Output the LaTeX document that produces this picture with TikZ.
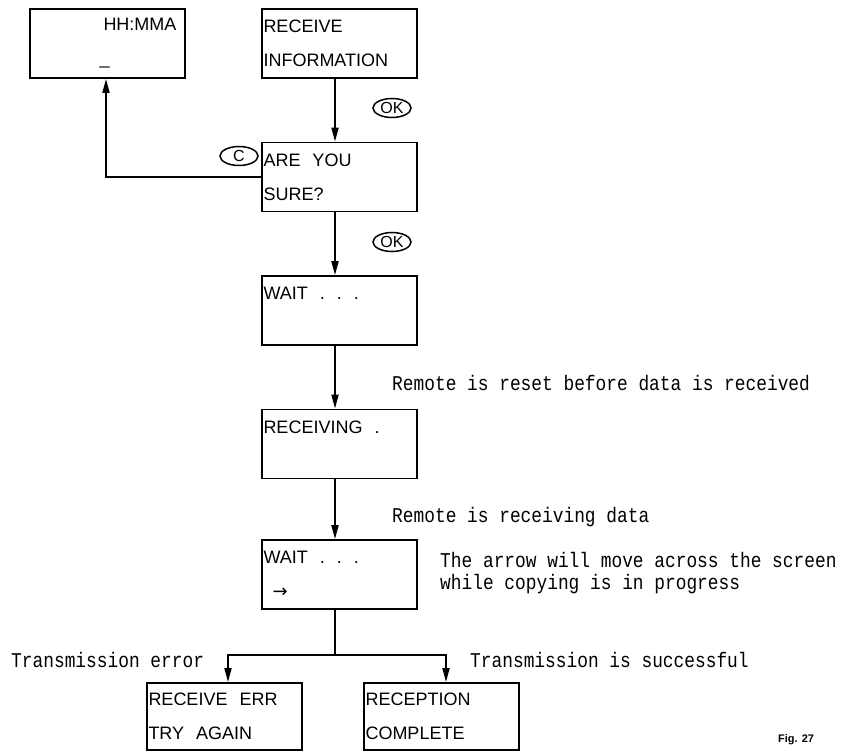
\documentclass[tikz,border=0pt]{standalone}
\usepackage{fontspec}
\setmainfont{Liberation Sans}
\newfontfamily\monof[FakeStretch=0.85]{Liberation Mono}
\newfontfamily\dejavu{DejaVu Sans}
\usetikzlibrary{arrows.meta,shapes.geometric}
\newcommand\wsp{\hspace{12pt}}
\begin{document}
\begin{tikzpicture}[x=1pt,y=-1pt,
  box/.style={draw, line width=1.8pt, minimum width=155pt, minimum height=69pt,
    text width=152pt, inner xsep=1.5pt, inner ysep=0pt, align=left,
    font=\fontsize{18}{34}\selectfont},
  conn/.style={line width=1.8pt},
  arr/.style={conn, -{Triangle[length=14pt,width=7pt]}},
  note/.style={anchor=base west, inner sep=0pt, font=\monof\fontsize{21}{24}\selectfont},
  key/.style={draw, ellipse, line width=1.5pt, minimum width=38pt, minimum height=19pt,
    inner sep=0pt, font=\fontsize{16}{16}\selectfont}]
\useasboundingbox (0,0) rectangle (854,754);
% boxes
\node[box] (hh)  at (107.5,43.5) {\hspace*{72pt}HH:MMA\\\hspace*{68pt}\_};
\node[box] (ri)  at (339.5,43.5) {RECEIVE\\INFORMATION};
\node[box] (ays) at (339.5,177)  {ARE\wsp YOU\\SURE?};
\node[box] (w1)  at (339.5,310.5) {WAIT\wsp.\wsp.\wsp.\\\mbox{}};
\node[box] (rv)  at (339.5,444)  {RECEIVING\wsp.\\\mbox{}};
\node[box] (w2)  at (339.5,574.5) {WAIT\wsp.\wsp.\wsp.\\\hspace*{9pt}{\dejavu →}};
\node[box, minimum height=67pt] (err) at (224.5,716.5) {RECEIVE\wsp ERR\\TRY\wsp AGAIN};
\node[box, minimum height=67pt] (rc)  at (441.5,716.5) {RECEPTION\\COMPLETE};
% helper coordinates
\coordinate (mx) at (335,0);
\coordinate (lx) at (106,0);
\coordinate (bl) at (228,0);
\coordinate (br) at (446,0);
\coordinate (split) at (335,655);
% keys
\node[key] (ok1) at (392,108) {OK};
\node[key] (ok2) at (392,242) {OK};
\node[key] (kc)  at (239,156) {C};
% connectors
\draw[arr] (ri.south -| mx) -- (ays.north -| mx);
\draw[arr] (ays.south -| mx) -- (w1.north -| mx);
\draw[arr] (w1.south -| mx) -- (rv.north -| mx);
\draw[arr] (rv.south -| mx) -- (w2.north -| mx);
\draw[arr] (ays.west) -| (hh.south -| lx);
\draw[conn] (w2.south -| mx) -- (split);
\draw[arr] (split) -| (err.north -| bl);
\draw[arr] (split) -| (rc.north -| br);
% notes
\node[note] (n1) at (392,390) {Remote is reset before data is received};
\node[note] (n2) at (392,522) {Remote is receiving data};
\node[note] (n3) at (440,567) {The arrow will move across the screen};
\node[note] (n4) at (440,589) {while copying is in progress};
\node[note] (n5) at (11,667)  {Transmission error};
\node[note] (n6) at (470,667) {Transmission is successful};
\node[anchor=base west, inner sep=0pt, font=\bfseries\fontsize{11}{11}\selectfont] (fig) at (778,742) {Fig. 27};
\end{tikzpicture}
\end{document}
